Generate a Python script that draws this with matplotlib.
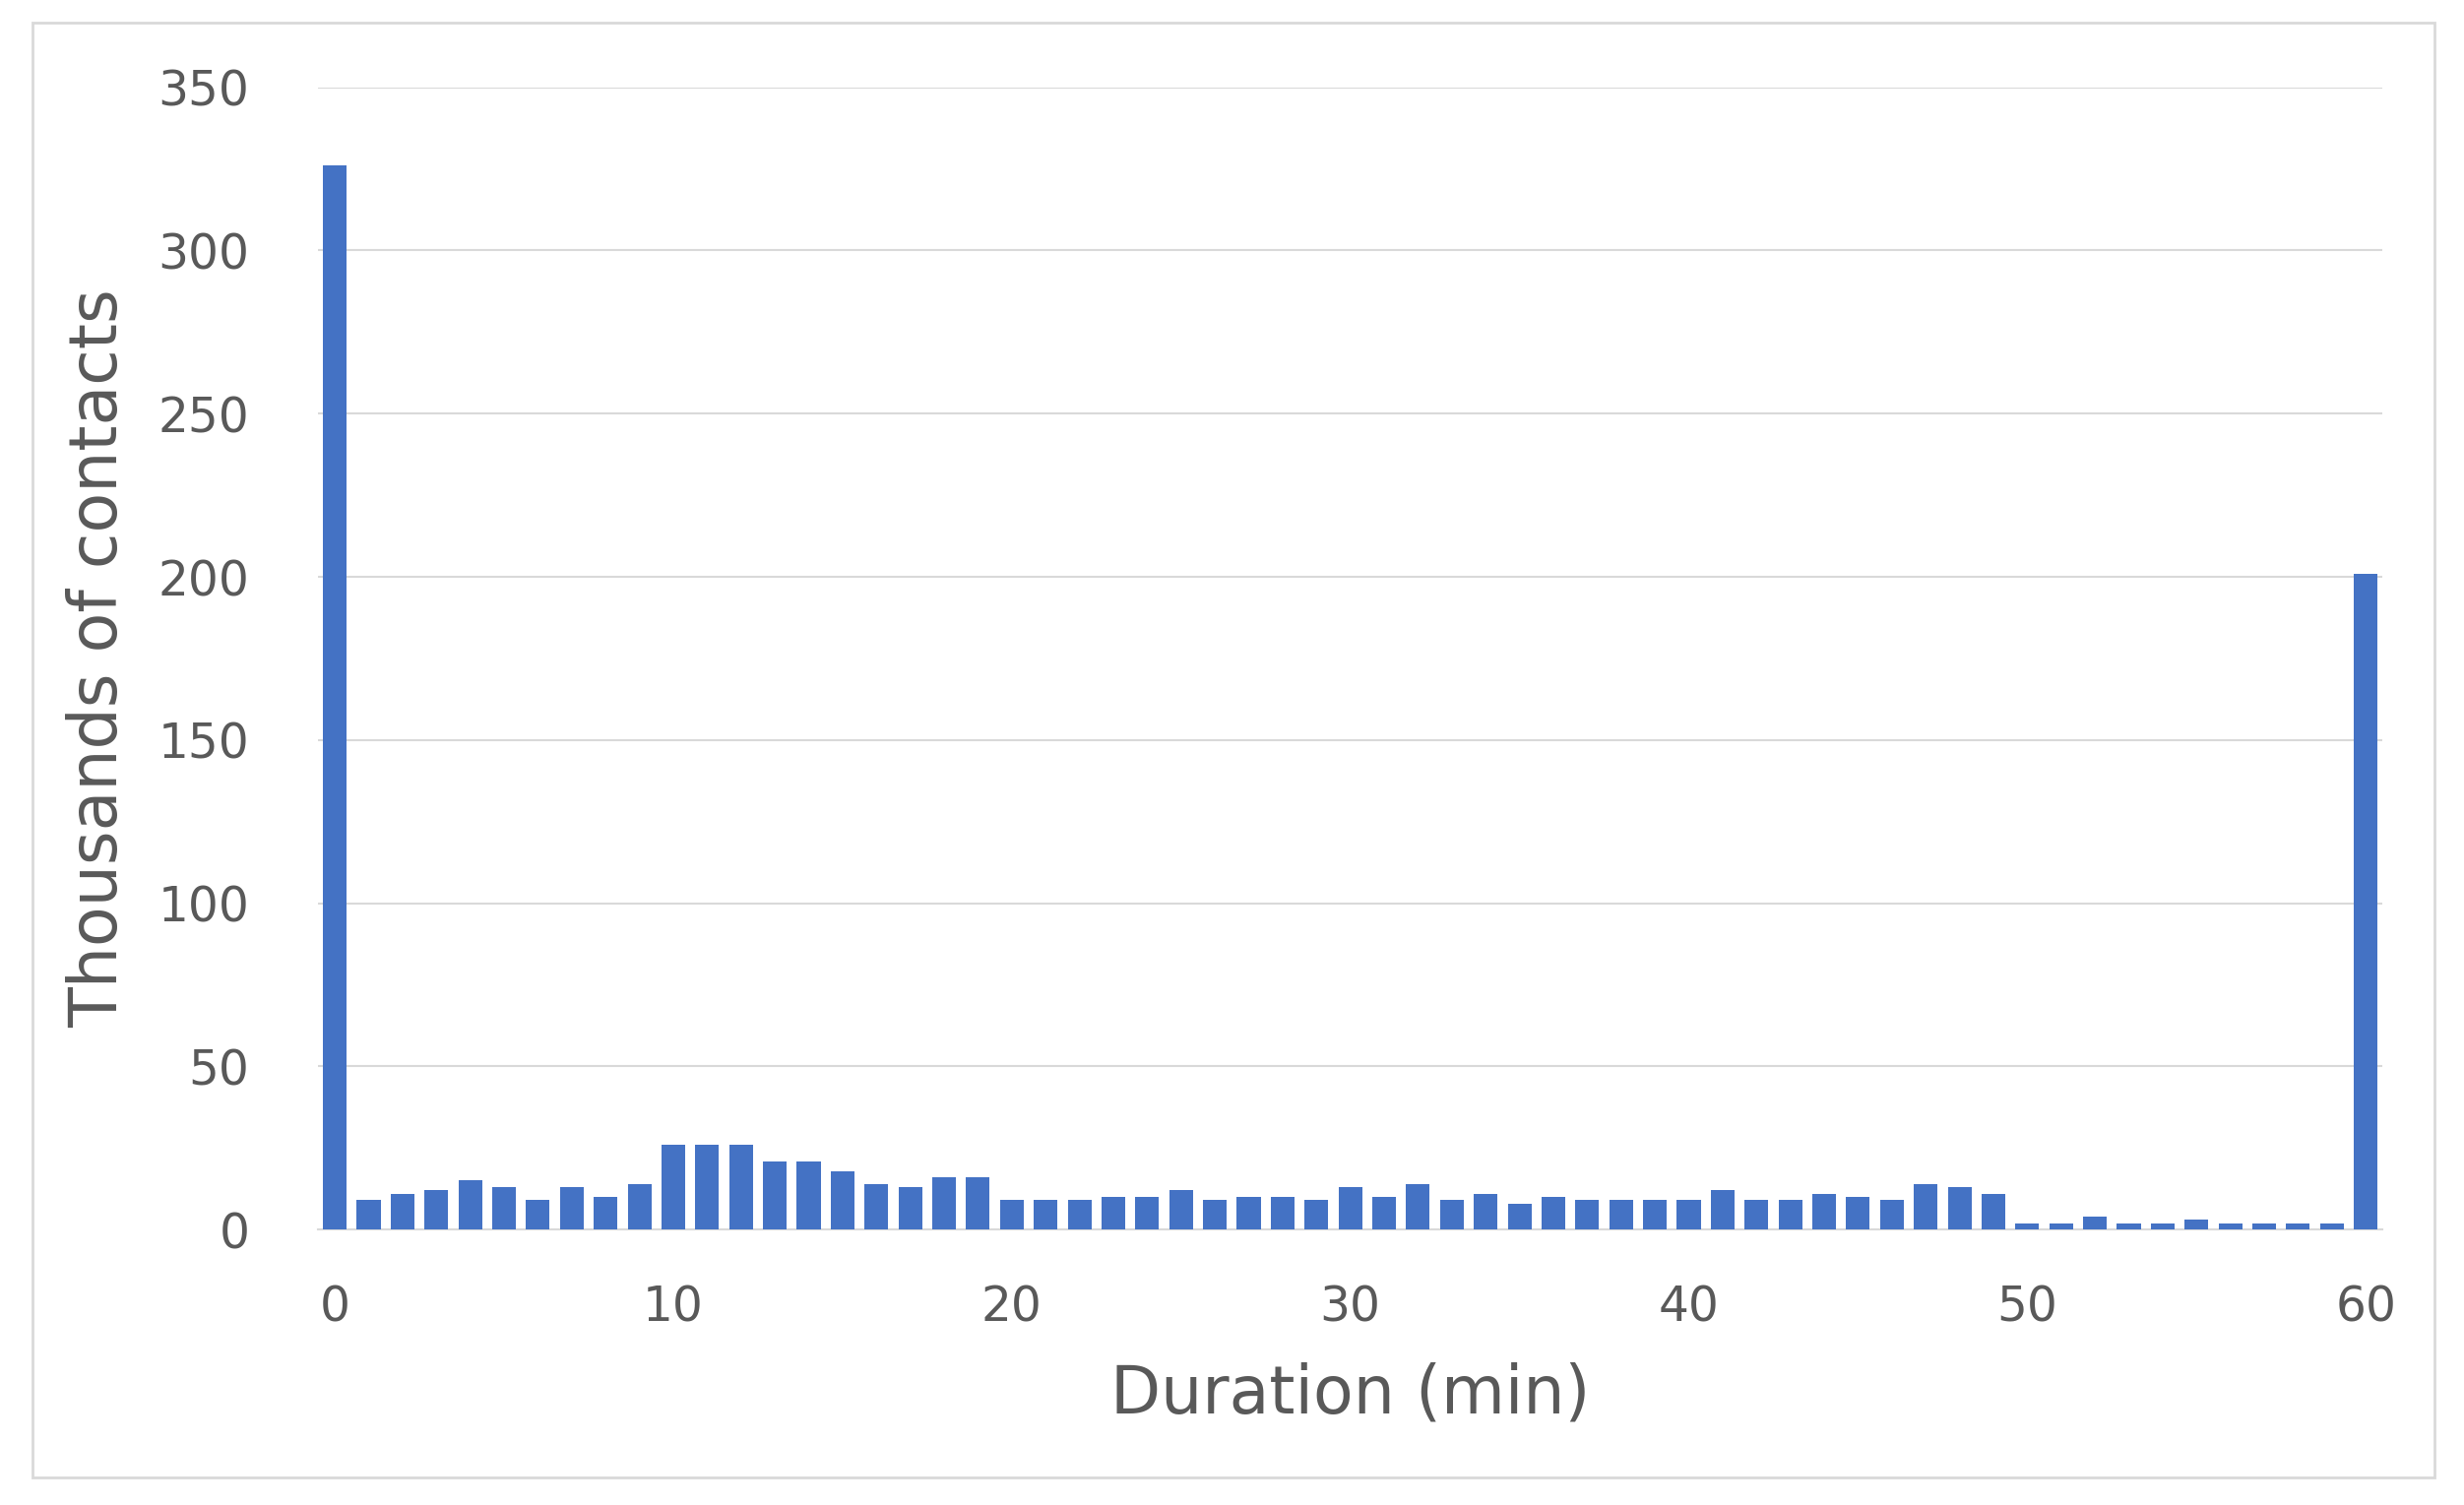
import matplotlib
matplotlib.use("Agg")
import matplotlib.pyplot as plt
from matplotlib.patches import Rectangle

durations = list(range(61))
contacts = [326, 9, 11, 12, 15, 13, 9, 13, 10, 14,
            26, 26, 26, 21, 21, 18, 14, 13, 16, 16,
            9, 9, 9, 10, 10, 12, 9, 10, 10, 9,
            13, 10, 14, 9, 11, 8, 10, 9, 9, 9,
            9, 12, 9, 9, 11, 10, 9, 14, 13, 11,
            2, 2, 4, 2, 2, 3, 2, 2, 2, 2,
            201]
xticks = [0, 10, 20, 30, 40, 50, 60]
yticks = [0, 50, 100, 150, 200, 250, 300, 350]

fig = plt.figure(figsize=(25.03, 15.29), dpi=100)
ax = fig.add_axes([0.129, 0.183, 0.838, 0.759])
ax.bar(durations, contacts, width=0.7, color="#4472C4", zorder=3)
ax.set_xlim(-0.5, 60.5)
ax.set_ylim(0, 350)
ax.set_xticks(xticks)
ax.set_yticks(yticks)
ax.grid(axis="y", color="#D9D9D9", linewidth=1.5, zorder=0)
for s in ["top", "right", "left"]:
    ax.spines[s].set_visible(False)
ax.spines["bottom"].set_color("#D9D9D9")
ax.spines["bottom"].set_linewidth(1.5)
ax.tick_params(axis="x", length=0, labelsize=35, colors="#595959", pad=40)
ax.tick_params(axis="y", length=0, labelsize=35, colors="#595959", pad=50)
ax.set_xlabel("Duration (min)", fontsize=48, color="#595959", labelpad=22)
ax.set_ylabel("Thousands of contacts", fontsize=48, color="#595959", labelpad=20)
fig.patches.append(Rectangle((0.013, 0.018), 0.975, 0.967, transform=fig.transFigure,
                             fill=False, edgecolor="#D9D9D9", linewidth=2))
fig.savefig("out.png", dpi=100, facecolor="white")
